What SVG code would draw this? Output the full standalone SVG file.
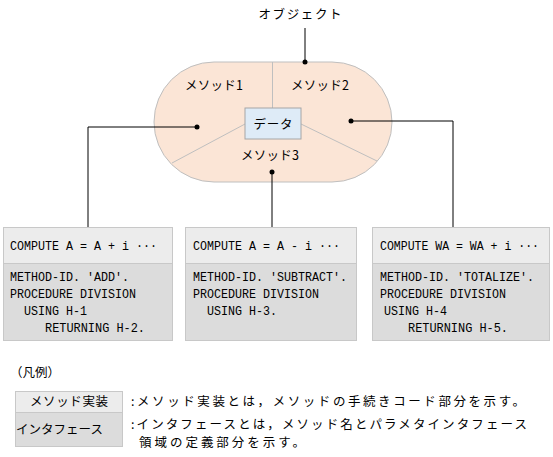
<svg xmlns="http://www.w3.org/2000/svg" width="553" height="457" viewBox="0 0 553 457">
<style>
.jp{font-family:"Noto Sans CJK JP","Noto Sans",sans-serif;font-size:12.5px;fill:#000}
.mono{font-family:"Liberation Mono","DejaVu Sans Mono",monospace;font-size:12px;fill:#000}
.top{fill:#ececec;stroke:#c8c8c8;stroke-width:1}
.bot{fill:#dcdcdc;stroke:#c8c8c8;stroke-width:1}
.conn{stroke:#000;stroke-width:1;fill:none}
.sep{stroke:#bfbfbf;stroke-width:1;fill:none}
</style>
<rect width="553" height="457" fill="#fff"/>
<g id="object">
<text class="jp" x="300" y="19" text-anchor="middle" textLength="83" lengthAdjust="spacing">オブジェクト</text>
<rect x="154" y="62" width="238" height="120" rx="60" ry="60" fill="#fbe5d6" stroke="#bfbfbf"/>
<line class="sep" x1="272.5" y1="62" x2="272.5" y2="108"/>
<line class="sep" x1="245" y1="124" x2="172" y2="163"/>
<line class="sep" x1="301" y1="124" x2="377" y2="161"/>
</g>
<g id="method1"><text class="jp" x="214" y="90" text-anchor="middle" textLength="58" lengthAdjust="spacing">メソッド1</text></g>
<g id="method2"><text class="jp" x="320" y="90" text-anchor="middle" textLength="58" lengthAdjust="spacing">メソッド2</text></g>
<g id="method3"><text class="jp" x="270" y="160" text-anchor="middle" textLength="58" lengthAdjust="spacing">メソッド3</text></g>
<g id="data">
<rect x="245" y="108" width="56" height="31" fill="#deebf7" stroke="#a6a6a6"/>
<text class="jp" x="273" y="129" text-anchor="middle" textLength="39" lengthAdjust="spacing">データ</text>
</g>
<g id="connectors">
<line class="conn" x1="305" y1="28" x2="305" y2="62"/>
<circle cx="305" cy="62" r="2.5"/>
<polyline class="conn" points="197,127 88,127 88,227"/>
<circle cx="197" cy="127" r="2.5"/>
<polyline class="conn" points="351,121 453,121 453,227"/>
<circle cx="351" cy="121" r="2.5"/>
<line class="conn" x1="272" y1="172" x2="272" y2="227"/>
<circle cx="272" cy="172" r="2.5"/>
</g>
<g id="box-add">
<rect class="top" x="3.5" y="227.5" width="169" height="36"/>
<rect class="bot" x="3.5" y="263.5" width="169" height="77"/>
<text class="mono" x="10" y="250" textLength="147" lengthAdjust="spacingAndGlyphs">COMPUTE A = A + i ···</text>
<text class="mono" x="10" y="281" textLength="119" lengthAdjust="spacingAndGlyphs">METHOD-ID. 'ADD'.</text>
<text class="mono" x="10" y="298" textLength="126" lengthAdjust="spacingAndGlyphs">PROCEDURE DIVISION</text>
<text class="mono" x="24" y="315" textLength="63" lengthAdjust="spacingAndGlyphs">USING H-1</text>
<text class="mono" x="45" y="332" textLength="100" lengthAdjust="spacingAndGlyphs">RETURNING H-2.</text>
</g>
<g id="box-subtract">
<rect class="top" x="185.5" y="227.5" width="171" height="36"/>
<rect class="bot" x="185.5" y="263.5" width="171" height="77"/>
<text class="mono" x="193" y="250" textLength="147" lengthAdjust="spacingAndGlyphs">COMPUTE A = A - i ···</text>
<text class="mono" x="193" y="281" textLength="154" lengthAdjust="spacingAndGlyphs">METHOD-ID. 'SUBTRACT'.</text>
<text class="mono" x="193" y="298" textLength="126" lengthAdjust="spacingAndGlyphs">PROCEDURE DIVISION</text>
<text class="mono" x="207" y="315" textLength="70" lengthAdjust="spacingAndGlyphs">USING H-3.</text>
</g>
<g id="box-totalize">
<rect class="top" x="372.5" y="227.5" width="177" height="36"/>
<rect class="bot" x="372.5" y="263.5" width="177" height="77"/>
<text class="mono" x="380" y="250" textLength="159" lengthAdjust="spacingAndGlyphs">COMPUTE WA = WA + i ···</text>
<text class="mono" x="380" y="281" textLength="154" lengthAdjust="spacingAndGlyphs">METHOD-ID. 'TOTALIZE'.</text>
<text class="mono" x="380" y="298" textLength="126" lengthAdjust="spacingAndGlyphs">PROCEDURE DIVISION</text>
<text class="mono" x="384" y="315" textLength="63" lengthAdjust="spacingAndGlyphs">USING H-4</text>
<text class="mono" x="408" y="332" textLength="100" lengthAdjust="spacingAndGlyphs">RETURNING H-5.</text>
</g>
<g id="legend">
<text class="jp" x="10" y="377">（凡例）</text>
<rect class="top" x="15.5" y="391.5" width="107" height="21"/>
<text class="jp" x="69" y="406" text-anchor="middle" textLength="78" lengthAdjust="spacing">メソッド実装</text>
<rect class="bot" x="15.5" y="412.5" width="107" height="34"/>
<text class="jp" x="16" y="434" textLength="87" lengthAdjust="spacing">インタフェース</text>
<text class="jp" x="131" y="406" textLength="394" lengthAdjust="spacing">:メソッド実装とは，メソッドの手続きコード部分を示す。</text>
<text class="jp" x="131" y="429" textLength="396" lengthAdjust="spacing">:インタフェースとは，メソッド名とパラメタインタフェース</text>
<text class="jp" x="139" y="447" textLength="166" lengthAdjust="spacing">領域の定義部分を示す。</text>
</g>
</svg>
